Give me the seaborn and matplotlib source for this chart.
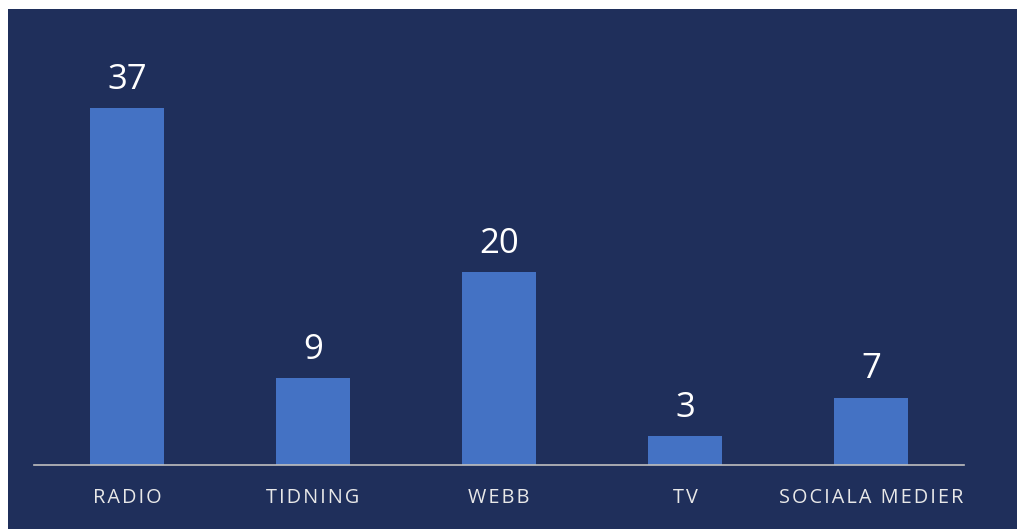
import matplotlib.pyplot as plt
import matplotlib.patches as mpatches
import seaborn as sns
import pandas as pd

# data
kategorier = ['RADIO', 'TIDNING', 'WEBB', 'TV', 'SOCIALA MEDIER']
antal = [37, 9, 20, 3, 7]

navy = '#1F2F5B'
bar_blue = '#4472C4'

df = pd.DataFrame({'kategori': kategorier, 'antal': antal})

sns.set_theme(style='white')
plt.rcParams['font.family'] = ['Open Sans', 'DejaVu Sans']

fig = plt.figure(figsize=(10.17, 5.29), dpi=100, facecolor='white')
# dark panel with thin white margin at top and left
fig.add_artist(mpatches.Rectangle((8 / 1017, 0), 1 - 8 / 1017, 1 - 9 / 529,
                                  transform=fig.transFigure, facecolor=navy,
                                  edgecolor='none', zorder=-10))

ax = fig.add_axes([34 / 1017, 64 / 529, 930 / 1017, 424 / 529])
ax.set_facecolor('none')

sns.barplot(data=df, x='kategori', y='antal', color=bar_blue, width=0.395,
            saturation=1, linewidth=0, ax=ax)

ax.set_xlim(-0.5, len(kategorier) - 0.5)
ax.set_ylim(0, 44)

for p, v in zip(ax.patches, antal):
    ax.annotate(str(v), (p.get_x() + p.get_width() / 2, p.get_height()),
                xytext=(0, 20.5), textcoords='offset points',
                ha='center', va='center', fontsize=25, color='white')

for s in ['top', 'right', 'left']:
    ax.spines[s].set_visible(False)
ax.spines['bottom'].set_color('#BFBFBF')
ax.spines['bottom'].set_linewidth(1.2)

ax.set_yticks([])
ax.set_xlabel('')
ax.set_ylabel('')
# wide letter spacing like the original labels
ax.set_xticks(range(len(kategorier)))
ax.set_xticklabels(['\u200a'.join(k) for k in kategorier], fontweight='medium')
ax.tick_params(axis='x', length=0, pad=16.5, labelsize=14.3, labelcolor='#E8E8E8')

fig.savefig('out.png', dpi=100, facecolor=fig.get_facecolor())
